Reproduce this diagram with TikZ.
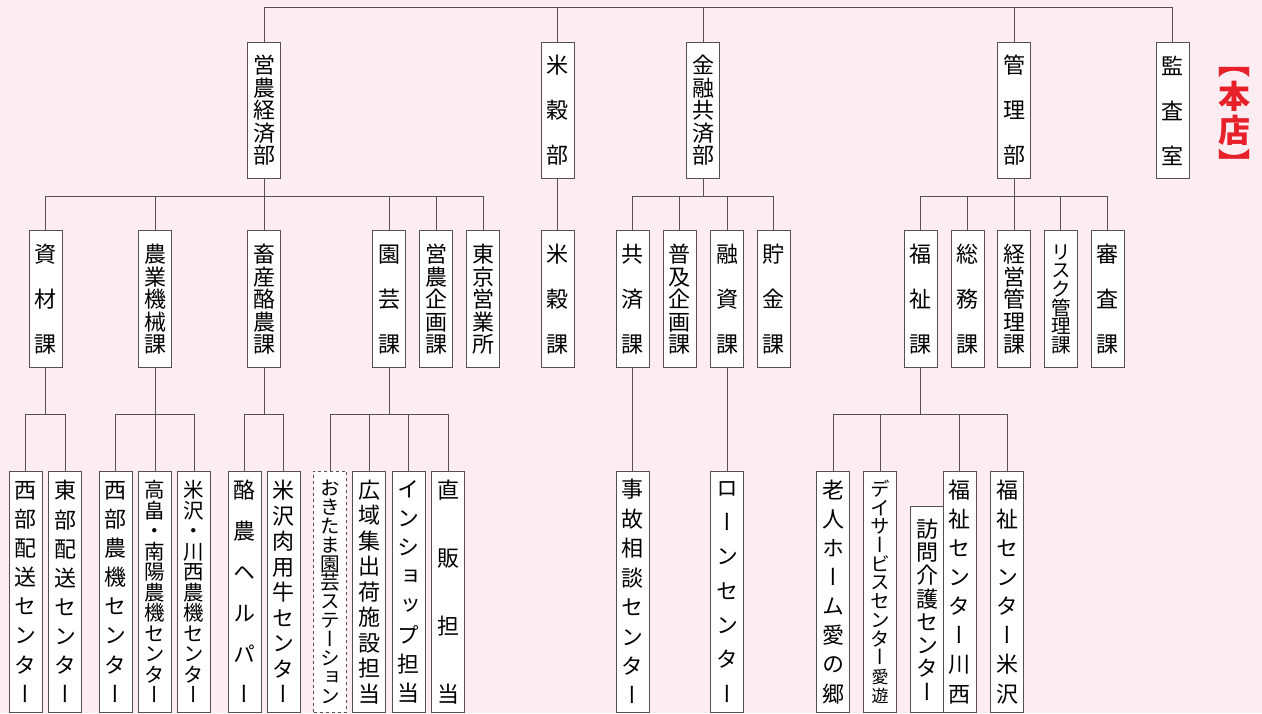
\documentclass[tikz,border=0pt]{standalone}
\usepackage{fontspec}
\newfontfamily\jp{Noto Sans CJK JP}[RawFeature=+vert]
\definecolor{bgpink}{RGB}{253,236,242}
\definecolor{linegray}{RGB}{85,80,82}
\definecolor{hqred}{RGB}{232,32,42}
\makeatletter
\newcount\vl@n
\newdimen\vl@d
\newcommand\vlabel[2]{%
  \vl@n=0 \@tfor\vl@c:=#2\do{\advance\vl@n by 1 }%
  \advance\vl@n by -1 \vl@d=#1\relax \divide\vl@d by \vl@n
  \vbox{\baselineskip=\vl@d\lineskiplimit=-100pt\lineskip=0pt
    \@tfor\vl@c:=#2\do{\hbox to 1.2em{\hss\vl@c\hss}}}}
\makeatother
\tikzset{box/.style={draw=linegray,fill=white,line width=0.9pt,inner sep=0pt,minimum width=33pt,anchor=north,font=\jp\fontsize{22}{22}\selectfont},
         dept/.style={box,minimum height=136pt},
         sect/.style={box,minimum height=137pt},
         branch/.style={box,minimum height=241.5pt},
         tight/.style={font=\jp\fontsize{20.5}{20.5}\selectfont},
         tighter/.style={font=\jp\fontsize{19.6}{19.6}\selectfont},
         wire/.style={draw=linegray,line width=0.9pt}}

\begin{document}
\begin{tikzpicture}[x=1pt,y=-1pt]
        \fill[bgpink](0,0)rectangle(1262,713);
        \useasboundingbox(0,0)rectangle(1262,713);

        \node[dept](eino)at(264.2,42){\vlabel{90pt}{営農経済部}};
        \node[dept](beikoku)at(557.8,42){\vlabel{90pt}{米穀部}};
        \node[dept](kinyu)at(703,42){\vlabel{90pt}{金融共済部}};
        \node[dept](kanri)at(1014.2,42){\vlabel{90pt}{管理部}};
        \node[dept](kansa)at(1172.8,42){\vlabel{90pt}{監査室}};

        \node[sect](shizai)at(45.5,230.3){\vlabel{90pt}{資材課}};
        \node[sect](noki)at(155.2,230.3){\vlabel{90pt}{農業機械課}};
        \node[sect](chikusan)at(264.2,230.3){\vlabel{90pt}{畜産酪農課}};
        \node[sect](engei)at(389.2,230.3){\vlabel{90pt}{園芸課}};
        \node[sect](eikikaku)at(436.2,230.3){\vlabel{90pt}{営農企画課}};
        \node[sect](tokyo)at(483.2,230.3){\vlabel{90pt}{東京営業所}};
        \node[sect](beikokuka)at(557.8,230.3){\vlabel{90pt}{米穀課}};
        \node[sect](kyosai)at(632.7,230.3){\vlabel{90pt}{共済課}};
        \node[sect](fukyu)at(679.7,230.3){\vlabel{90pt}{普及企画課}};
        \node[sect](yushi)at(727,230.3){\vlabel{90pt}{融資課}};
        \node[sect](chokin)at(773.5,230.3){\vlabel{90pt}{貯金課}};
        \node[sect](fukushi)at(920.5,230.3){\vlabel{90pt}{福祉課}};
        \node[sect](somu)at(967.5,230.3){\vlabel{90pt}{総務課}};
        \node[sect](keiei)at(1014.2,230.3){\vlabel{90pt}{経営管理課}};
        \node[sect,tighter](risk)at(1060.8,230.3){\vlabel{93pt}{リスク管理課}};
        \node[sect](shinsa)at(1107.8,230.3){\vlabel{90pt}{審査課}};

        \node[branch](seibu)at(25.8,470.5){\vlabel{204pt}{西部配送センター}};
        \node[branch](tobu)at(65.3,470.5){\vlabel{204pt}{東部配送センター}};
        \node[branch](seibunoki)at(115.5,470.5){\vlabel{204pt}{西部農機センター}};
        \node[branch,tight](takahata)at(155.2,470.5){\vlabel{205pt}{高畠・南陽農機センター}};
        \node[branch,tight](yonekawa)at(194.2,470.5){\vlabel{205pt}{米沢・川西農機センター}};
        \node[branch](rakuno)at(244.5,470.5){\vlabel{204pt}{酪農ヘルパー}};
        \node[branch](nikuyo)at(283.7,470.5){\vlabel{204pt}{米沢肉用牛センター}};
        \node[branch,dashed,tighter](okitama)at(330,470.5){\vlabel{208pt}{おきたま園芸ステーション}};
        \node[branch](koiki)at(369.3,470.5){\vlabel{204pt}{広域集出荷施設担当}};
        \node[branch](inshop)at(408.8,470.5){\vlabel{204pt}{インショップ担当}};
        \node[branch](chokuhan)at(448,470.5){\vlabel{204pt}{直販担当}};
        \node[branch](jiko)at(632.7,470.5){\vlabel{206pt}{事故相談センター}};
        \node[branch](loan)at(727,470.5){\vlabel{206pt}{ローンセンター}};
        \node[branch](rojin)at(833.2,470.5){\vlabel{204pt}{老人ホーム愛の郷}};
        \node[branch,tighter](day)at(880,470.5){\vlabel{206pt}{デイサービスセンター{\fontsize{17}{17}\selectfont 愛}{\fontsize{17}{17}\selectfont 遊}}};
        \node[box,minimum height=206pt](homon)at(927,506){\vlabel{163pt}{訪問介護センター}};
        \node[branch](kawanishi)at(959.8,470.5){\vlabel{204pt}{福祉センター川西}};
        \node[branch](yonezawa)at(1007.2,470.5){\vlabel{204pt}{福祉センター米沢}};

        \node[font=\jp\bfseries\fontsize{32}{32}\selectfont,text=hqred,inner sep=0pt](honten)at(1234,122.3){\vlabel{102pt}{︻本店︼}};

        \draw[wire](eino.north)--(eino.north |- 0,7.3)-|(kansa.north);
        \foreach \n in {beikoku,kinyu,kanri}
            \draw[wire](\n.north)--(\n.north |- 0,7.3);

        \draw[wire](shizai.north)--(shizai.north |- 0,196.7)-|(tokyo.north);
        \foreach \n in {noki,engei,eikikaku}
            \draw[wire](\n.north)--(\n.north |- 0,196.7);
        \draw[wire](eino.south)--(chikusan.north);
        \draw[wire](beikoku.south)--(beikokuka.north);
        \draw[wire](kyosai.north)--(kyosai.north |- 0,196.7)-|(chokin.north);
        \foreach \n in {fukyu,yushi}
            \draw[wire](\n.north)--(\n.north |- 0,196.7);
        \draw[wire](kinyu.south)--(kinyu.south |- 0,196.7);
        \draw[wire](fukushi.north)--(fukushi.north |- 0,196.7)-|(shinsa.north);
        \foreach \n in {somu,risk}
            \draw[wire](\n.north)--(\n.north |- 0,196.7);
        \draw[wire](kanri.south)--(keiei.north);

        \draw[wire](seibu.north)--(seibu.north |- 0,414)-|(tobu.north);
        \draw[wire](shizai.south)--(shizai.south |- 0,414);
        \draw[wire](seibunoki.north)--(seibunoki.north |- 0,414)-|(yonekawa.north);
        \draw[wire](noki.south)--(takahata.north);
        \draw[wire](rakuno.north)--(rakuno.north |- 0,414)-|(nikuyo.north);
        \draw[wire](chikusan.south)--(chikusan.south |- 0,414);
        \draw[wire](okitama.north)--(okitama.north |- 0,414)-|(chokuhan.north);
        \foreach \n in {koiki,inshop}
            \draw[wire](\n.north)--(\n.north |- 0,414);
        \draw[wire](engei.south)--(engei.south |- 0,414);
        \draw[wire](kyosai.south)--(jiko.north);
        \draw[wire](yushi.south)--(loan.north);
        \draw[wire](rojin.north)--(rojin.north |- 0,414)-|(yonezawa.north);
        \foreach \n in {day,kawanishi}
            \draw[wire](\n.north)--(\n.north |- 0,414);
        \draw[wire](fukushi.south)--(fukushi.south |- 0,414);
\end{tikzpicture}
\end{document}
